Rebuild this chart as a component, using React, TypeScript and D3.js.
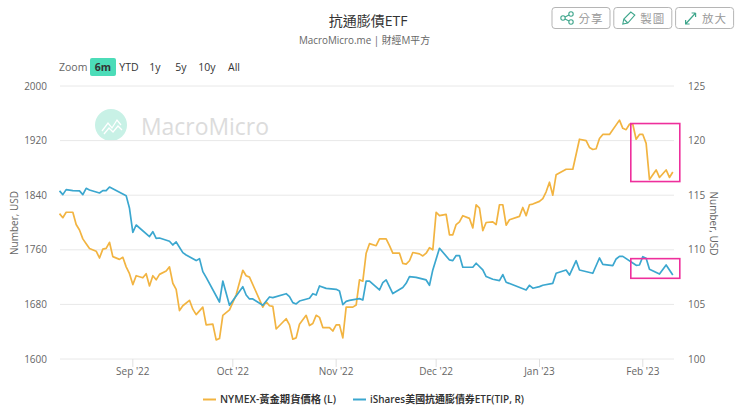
import React from 'react';
import { scaleLinear, scaleTime, line, timeDay, timeMonth, timeFormat } from 'd3';

// series are stored as days since firstDay + value
const firstDay = new Date(2022, 7, 10);
const lastDay = new Date(2023, 1, 10);

const goldDays = [0, 1, 2, 4, 5, 6, 7, 8, 9, 11, 12, 13, 14, 15, 16, 18, 19, 20, 21, 22, 23, 25, 26, 27, 28, 29, 30, 32, 33, 34, 35, 36, 37, 39, 40, 41, 43, 44, 46, 47, 48, 49, 51, 53, 55, 56, 57, 61, 62, 63, 64, 65, 68, 69, 70, 71, 72, 74, 75, 76, 77, 78, 79, 81, 82, 83, 84, 85, 86, 88, 89, 90, 91, 92, 93, 95, 96, 98, 99, 100, 102, 103, 104, 105, 106, 108, 109, 110, 111, 112, 113, 114, 116, 117, 118, 119, 120, 121, 123, 124, 125, 126, 127, 128, 130, 131, 132, 133, 134, 135, 138, 139, 140, 141, 142, 144, 145, 146, 147, 148, 149, 152, 154, 156, 158, 159, 160, 161, 162, 163, 165, 168, 169, 170, 171, 172, 173, 174, 175, 176, 177, 179, 180, 182, 183, 184];
const goldValues = [1813, 1807, 1815, 1815, 1797, 1789, 1776, 1769, 1762, 1758, 1748, 1761, 1762, 1771, 1750, 1746, 1749, 1735, 1725, 1709, 1722, 1719, 1725, 1707, 1722, 1716, 1724, 1729, 1735, 1711, 1702, 1671, 1678, 1686, 1673, 1665, 1676, 1650, 1651, 1628, 1630, 1664, 1672, 1694, 1730, 1722, 1720, 1676, 1684, 1678, 1677, 1644, 1659, 1650, 1629, 1631, 1651, 1664, 1649, 1652, 1664, 1661, 1646, 1646, 1641, 1650, 1650, 1631, 1676, 1676, 1679, 1716, 1714, 1755, 1769, 1766, 1776, 1776, 1766, 1755, 1755, 1740, 1739, 1744, 1756, 1754, 1751, 1755, 1763, 1760, 1815, 1810, 1812, 1782, 1782, 1797, 1801, 1810, 1806, 1792, 1826, 1821, 1788, 1800, 1801, 1797, 1826, 1826, 1796, 1804, 1809, 1822, 1810, 1826, 1827, 1831, 1835, 1845, 1859, 1840, 1870, 1878, 1878, 1922, 1920, 1910, 1907, 1908, 1923, 1929, 1929, 1950, 1938, 1936, 1944, 1944, 1922, 1929, 1929, 1916, 1863, 1877, 1866, 1877, 1866, 1874];

const tipDays = [0, 1, 2, 4, 6, 7, 8, 9, 12, 13, 14, 15, 20, 21, 22, 23, 27, 28, 29, 30, 33, 34, 35, 37, 38, 41, 42, 43, 44, 48, 49, 51, 55, 56, 57, 58, 61, 63, 64, 68, 69, 70, 71, 72, 75, 76, 77, 78, 80, 83, 84, 85, 86, 87, 90, 91, 92, 93, 96, 97, 98, 100, 103, 104, 105, 107, 110, 111, 112, 114, 117, 118, 119, 120, 121, 124, 125, 127, 128, 130, 132, 133, 134, 140, 141, 142, 144, 145, 148, 149, 152, 153, 155, 156, 160, 162, 163, 166, 167, 168, 169, 173, 174, 175, 176, 177, 180, 182, 184];
const tipValues = [115.39, 115.05, 115.51, 115.42, 115.39, 115.05, 115.63, 115.48, 115.2, 115.42, 115.42, 115.75, 114.96, 113.8, 111.6, 112.27, 111.21, 111.66, 111.05, 111.08, 110.78, 110.44, 110.72, 109.74, 109.53, 109.01, 109.19, 108, 107.48, 105.22, 107.14, 104.92, 106.62, 105.86, 105.5, 105.5, 104.92, 105.68, 105.62, 105.98, 105.71, 105.16, 105.04, 105.31, 105.56, 105.98, 105.86, 106.69, 106.47, 106.38, 106.23, 104.98, 105.28, 105.37, 105.53, 105.4, 107.14, 107.14, 106.32, 106.99, 107.24, 105.99, 106.54, 106.93, 107.55, 107.48, 107.24, 106.75, 108.16, 110.14, 109.07, 109.01, 109.47, 109.47, 108.4, 108.4, 108.77, 108.16, 107.55, 107.3, 107.18, 107.73, 107.03, 106.32, 106.75, 106.48, 106.63, 106.75, 106.93, 107.85, 108.15, 107.69, 109, 108.15, 107.85, 109.25, 108.67, 108.55, 109.16, 109.4, 109.4, 108.58, 108.61, 109.37, 109.22, 108.21, 107.78, 108.61, 107.69];

const leftTicks = [1600, 1680, 1760, 1840, 1920, 2000];
const rightTicks = [100, 105, 110, 115, 120, 125];
const zoomLabels = ['6m', 'YTD', '1y', '5y', '10y', 'All'];
const zoomLabelX = [103, 129, 155, 181, 207, 234];
const buttonLabels = ['分享', '製圖', '放大'];

const goldName = 'NYMEX-黃金期貨價格 (L)';
const tipName = 'iShares美國抗通膨債券ETF(TIP, R)';
const goldColor = '#f2b441';
const tipColor = '#3ba7cf';
const pink = '#ee2f9c';
const teal = '#3fa68c';
const font = '"Open Sans", "Noto Sans CJK TC", sans-serif';

const W = 740, H = 410;
const plot = { left: 60, right: 674, top: 86, bottom: 359 };

const fmtMonth = timeFormat("%b '%y");

function ButtonIcon(props: { index: number, x: number }) {
    const x = props.x;
    if (props.index === 0) {
        return (
            <g fill="none" stroke={teal} strokeWidth={1.1}>
                <circle cx={x - 4} cy={18} r={2.2} />
                <circle cx={x + 4} cy={14} r={2.2} />
                <circle cx={x + 4} cy={22} r={2.2} />
                <path d={`M${x - 2},17 L${x + 2},15 M${x - 2},19 L${x + 2},21`} />
            </g>
        );
    }
    if (props.index === 1) {
        return (
            <g fill="none" stroke={teal} strokeWidth={1.1}>
                <path d={`M${x - 6},24 L${x - 5},19 L${x + 2},12 L${x + 6},15 L${x - 1},23 Z M${x - 5},19 L${x - 1},23`} />
            </g>
        );
    }
    return (
        <path fill="none" stroke={teal} strokeWidth={1.2} d={`M${x - 5},24 L${x + 5},13 M${x + 1},13 L${x + 5},13 M${x + 5},13 L${x + 5},17 M${x - 5},20 L${x - 5},24 L${x - 1},24`} />
    );
}

const App = () => {
    const x = scaleTime().domain([firstDay, lastDay]).range([59.5, 672.8]);
    const yLeft = scaleLinear().domain([1600, 2000]).range([plot.bottom, plot.top]);
    const yRight = scaleLinear().domain([100, 125]).range([plot.bottom, plot.top]);
    const dayX = (n: number) => x(timeDay.offset(firstDay, Math.floor(n))) + (n % 1) * (x(timeDay.offset(firstDay, 1)) - x(firstDay));

    const goldLine = line<number>().x((d) => dayX(d)).y((_, i) => yLeft(goldValues[i]));
    const tipLine = line<number>().x((d) => dayX(d)).y((_, i) => yRight(tipValues[i]));
    const months = timeMonth.range(new Date(2022, 8, 1), lastDay);

    return (
        <svg width={W} height={H} style={{ position: 'absolute', left: 0, top: 0, fontFamily: font }}>
            <rect width={W} height={H} fill="#fff" />

            {/* title */}
            <text x={368} y={26} textAnchor="middle" fontSize={14} fill="#333">抗通膨債ETF</text>
            <text x={299} y={44} fontSize={10.5} textLength={131} lengthAdjust="spacingAndGlyphs" fill="#666">MacroMicro.me | 財經M平方</text>

            {/* buttons */}
            {buttonLabels.map((b, i) => {
                const bx = 552 + i * 61.8;
                return (
                    <g key={b}>
                        <rect x={bx} y={7.5} width={58} height={21} rx={3} fill="#fff" stroke="#b5b5b5" />
                        <ButtonIcon index={i} x={bx + 15} />
                        <text x={bx + 39} y={22.5} textAnchor="middle" fontSize={11.5} letterSpacing={1} fill="#999">{b}</text>
                    </g>
                );
            })}

            {/* range selector */}
            <text x={59} y={70.5} fontSize={10.5} fill="#666">Zoom</text>
            <rect x={90} y={58} width={26} height={18} rx={2} fill="#4cdcb8" />
            {zoomLabels.map((l, i) => (
                <text key={l} x={zoomLabelX[i]} y={70.5} textAnchor="middle" fontSize={10.5} fontWeight={i === 0 ? 700 : 400} fill="#333">{l}</text>
            ))}

            {/* watermark */}
            <circle cx={111} cy={125} r={16} fill="#c8f1e6" />
            <path d="M102,131 L108,123 L112,128 L117,120 L121,125 M104,134 L109,128 L113,132 L118,126 L122,130" fill="none" stroke="#fff" strokeWidth={1.3} />
            <text x={141} y={135} fontSize={24} textLength={128} lengthAdjust="spacingAndGlyphs" fill="#dcdcdc">MacroMicro</text>

            {/* grid + axes */}
            {leftTicks.map((t) => (
                <g key={t}>
                    <line x1={plot.left} x2={plot.right} y1={yLeft(t)} y2={yLeft(t)} stroke="#e8e8e8" />
                    <text x={47} y={yLeft(t) + 3.5} textAnchor="end" fontSize={10} fill="#666">{t}</text>
                </g>
            ))}
            {rightTicks.map((t) => (
                <text key={t} x={688} y={yRight(t) + 3.5} fontSize={10} fill="#666">{t}</text>
            ))}
            {months.map((m) => (
                <g key={m.getTime()}>
                    <line x1={x(m)} x2={x(m)} y1={plot.bottom} y2={plot.bottom + 8} stroke="#e0e0e0" />
                    <text x={x(m)} y={375} textAnchor="middle" fontSize={10} fill="#666">{fmtMonth(m)}</text>
                </g>
            ))}
            <text transform="translate(17.5,223) rotate(-90)" textAnchor="middle" fontSize={10} fill="#666">Number, USD</text>
            <text transform="translate(710,223.5) rotate(90)" textAnchor="middle" fontSize={10} fill="#666">Number, USD</text>

            {/* series */}
            <path d={goldLine(goldDays) as string} fill="none" stroke={goldColor} strokeWidth={1.7} strokeLinejoin="round" />
            <path d={tipLine(tipDays) as string} fill="none" stroke={tipColor} strokeWidth={1.7} strokeLinejoin="round" />

            {/* highlight boxes */}
            <rect x={dayX(171.4)} y={yLeft(1945)} width={dayX(186.1) - dayX(171.4)} height={yLeft(1860) - yLeft(1945)} fill="none" stroke={pink} strokeWidth={1.6} />
            <rect x={dayX(171.4)} y={yRight(109.19)} width={dayX(186.1) - dayX(171.4)} height={yRight(107.39) - yRight(109.19)} fill="none" stroke={pink} strokeWidth={1.6} />

            {/* legend */}
            <line x1={203} x2={216} y1={399.5} y2={399.5} stroke={goldColor} strokeWidth={2} />
            <text x={220} y={403} fontSize={10.5} fontWeight={600} textLength={116} lengthAdjust="spacingAndGlyphs" fill="#333">{goldName}</text>
            <line x1={353} x2={366} y1={399.5} y2={399.5} stroke={tipColor} strokeWidth={2} />
            <text x={370} y={403} fontSize={10.5} fontWeight={600} textLength={154} lengthAdjust="spacingAndGlyphs" fill="#333">{tipName}</text>
        </svg>
    );
};

export default App;
